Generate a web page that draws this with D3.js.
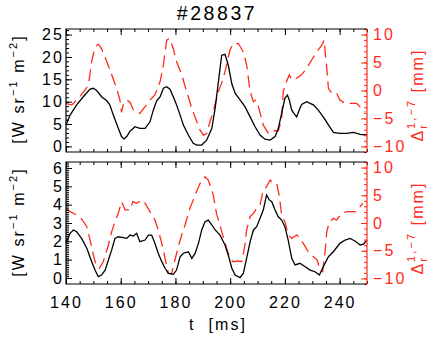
<!DOCTYPE html>
<html>
<head>
<meta charset="utf-8">
<script src="https://cdn.jsdelivr.net/npm/d3@7"></script>
<style>
  body { margin: 0; background: #fff; }
  text { font-family: "Liberation Sans", Arial, sans-serif; letter-spacing: 0.13em; }
</style>
</head>
<body>
<div id="chart"></div>
<script>
// top panel, black (left axis, W sr^-1 m^-2)
const topBlackT = [140, 141.5, 143.9, 146.3, 148.8, 150, 151.2, 153, 154.9, 156, 157.3, 159.1, 160.3, 161.2, 162.2, 163.4, 165.2, 167, 168.9, 170.7, 171.9, 173.1, 174.4, 175.6, 176.8, 178, 179.2, 180.4, 181.7, 182.9, 184.7, 186.5, 187.8, 189.6, 191.4, 193.3, 194.5, 195.7, 196.9, 198.1, 199.3, 200.6, 201.8, 203.6, 205.4, 207.3, 209.1, 210.9, 212.7, 214.6, 216.4, 217.6, 218.8, 220, 220.9, 221.6, 222.5, 223.3, 224.3, 225.2, 226.1, 228, 229.2, 230.4, 232.2, 234, 235.9, 237.7, 240.1, 242.6, 245, 247.5, 250];
const topBlack = [4.8, 7.0, 9.3, 11.1, 12.8, 13.0, 12.5, 11.1, 10.2, 9.3, 7.0, 4.05, 2.2, 1.66, 2.2, 3.4, 4.4, 4.05, 4.05, 5.5, 8.1, 10.15, 11.1, 13.0, 13.35, 12.8, 11.1, 9.3, 7.0, 4.8, 2.55, 0.7, 0.3, 0.3, 1.4, 4.05, 8.5, 14.5, 20.4, 20.6, 18.2, 14.0, 11.9, 10.4, 8.9, 6.6, 4.4, 2.55, 1.6, 1.4, 2.2, 4.05, 7.4, 10.75, 11.5, 10.4, 8.1, 7.4, 6.6, 8.1, 9.4, 10.0, 9.6, 9.3, 8.1, 6.6, 4.8, 3.15, 2.9, 2.9, 3.15, 2.7, 2.55];

// top panel, red dashed (right axis, mm)
const topRedT = [140, 142.1, 144.5, 147, 148.2, 149.4, 150.6, 151.8, 153, 154.9, 156.7, 158.5, 159.7, 160.3, 160.9, 162.2, 163.4, 164.6, 167, 168.9, 170.7, 172.5, 174.4, 175.6, 176.8, 177.8, 179.2, 180.4, 182.3, 184.1, 186, 187.8, 189, 190.2, 191.4, 192.6, 193.8, 195.7, 197.5, 198.7, 199.9, 201.1, 203, 204.8, 206, 207.3, 208.5, 209.5, 210.5, 212.1, 214, 215.8, 217.6, 218.8, 219.4, 220.6, 221.6, 222.5, 224.3, 226.1, 228, 229.8, 231.6, 233.5, 234.4, 234.7, 235.3, 235.9, 237.1, 238.9, 240.1, 242, 243.8, 246.2, 248.1, 249.3];
const topRed = [-2.3, -2.6, -1.4, 0.1, 1.0, 5.2, 7.8, 8.3, 7.5, 5.2, 2.8, 0.4, -1.7, -3.9, -2.6, -1.7, -2.1, -3.5, -4.1, -2.9, -1.7, -0.8, 1.6, 4.6, 9.0, 9.3, 7.5, 5.2, 2.8, -0.2, -3.2, -5.6, -7.1, -8.0, -7.7, -5.6, -3.8, -0.2, 2.2, 4.6, 7.2, 8.4, 8.4, 6.9, 4.6, -0.2, -2.0, -1.7, -3.2, -6.2, -7.7, -7.2, -7.2, -5.0, -0.2, 1.6, 2.8, 1.9, 2.2, 2.8, 4.0, 5.5, 6.9, 8.1, 9.0, 6.9, 4.0, 0.4, -0.5, -0.5, -1.7, -2.3, -2.3, -2.3, -3.2, -3.8];

// bottom panel, black
const botBlackT = [140, 141.5, 142.7, 143.9, 145.7, 147.6, 149.4, 150.6, 151.8, 153, 154.3, 155.5, 156.7, 157.9, 159.1, 160.9, 162.2, 163.4, 164.6, 165.8, 167, 168.9, 170.1, 171.3, 172.5, 173.7, 175, 176.2, 177.4, 179.2, 180.4, 181.7, 182.9, 184.7, 186, 187.2, 188.4, 189.6, 190.8, 192, 193.3, 194.5, 196.3, 198.1, 199.3, 200.6, 201.8, 203.6, 204.8, 206, 207.3, 208.5, 209.7, 210.9, 212.1, 213.3, 214.3, 215.2, 216.4, 217.6, 218.8, 220, 221.2, 222.5, 223.7, 225.5, 227.4, 229.2, 231, 232.6, 234, 235.9, 237.7, 240.1, 242, 243.8, 245.6, 247.5, 248.7, 250];
const botBlack = [1.89, 2.44, 2.62, 2.52, 2.16, 1.62, 0.89, 0.43, 0.07, 0.16, 0.43, 0.98, 1.53, 2.16, 2.25, 2.2, 2.16, 2.34, 2.29, 2.44, 1.98, 2.07, 2.34, 2.34, 1.89, 1.35, 0.89, 0.53, 0.25, 0.2, 0.43, 1.16, 1.35, 1.43, 1.07, 1.35, 1.89, 2.62, 3.07, 3.16, 2.89, 2.62, 2.34, 1.8, 1.25, 0.53, 0.16, 0.02, 0.25, 1.07, 1.98, 2.62, 2.8, 3.26, 3.71, 4.53, 4.26, 4.16, 3.71, 3.34, 3.16, 2.8, 2.07, 1.07, 0.71, 0.8, 0.61, 0.43, 0.34, 0.16, 0.61, 1.16, 1.43, 1.89, 2.07, 2.16, 2.02, 1.8, 1.84, 2.07];

// bottom panel, red dashed
const botRedT = [140, 141.5, 143.9, 145.7, 147.6, 148.8, 150, 151.2, 152.2, 153.6, 155.5, 156.7, 157.9, 159.1, 160.3, 161.6, 163.4, 164.4, 165.8, 167.7, 168.9, 170.7, 172.5, 173.7, 175, 176.2, 177.4, 178.6, 179.8, 181, 182.3, 183.5, 185.3, 187.2, 189, 190.8, 192, 193.8, 195, 196.9, 198.7, 199.9, 201.1, 203, 204.2, 205.4, 206, 207.3, 208.5, 209.7, 210.9, 212.1, 213.3, 214.6, 215.8, 217, 218, 218.8, 220, 221.2, 222.5, 224.3, 225.5, 226.7, 228.5, 230.4, 231.8, 232.8, 233.8, 234.7, 235.3, 236.1, 237.7, 238.9, 240.7, 242.6, 244.4, 246.2, 247.5, 248.5];
const botRed = [2.65, 2.04, 1.44, 0.72, -0.67, -3.07, -5.77, -7.88, -8.17, -6.98, -3.97, -1.56, 0.24, 1.74, 3.85, 2.35, 2.35, 3.85, 3.55, 4.15, 3.55, 2.04, 0.54, -1.26, -3.66, -6.37, -9.07, -9.07, -6.67, -4.27, -2.16, -0.36, 2.65, 5.05, 7.16, 8.35, 7.75, 5.05, 1.74, -1.56, -4.57, -6.37, -6.98, -6.85, -6.98, -3.97, -1.26, 1.14, 1.74, 2.65, 3.25, 5.95, 6.55, 7.75, 7.16, 7.16, 4.74, 1.44, 0.24, -2.16, -2.76, -2.16, -2.76, -3.66, -5.17, -6.07, -6.67, -8.47, -8.77, -5.17, -1.56, -0.06, 0.84, 0.54, 1.74, 2.04, 2.04, 2.04, 2.94, 3.6];

const xTicks = [140, 160, 180, 200, 220, 240];
const topLeftTicks = [0, 5, 10, 15, 20, 25];
const botLeftTicks = [0, 1, 2, 3, 4, 5, 6];
const rightTicks = [-10, -5, 0, 5, 10];

const W = 430, H = 339;
const RED = '#ff2a1a';
const left = 66, right = 367;

const svg = d3.select('#chart').append('svg')
  .attr('width', W)
  .attr('height', H);

const x = d3.scaleLinear().domain([140, 250]).range([left, right]);

const panels = [
  { top: 29, bottom: 152, yl: [-1.25, 26.25], lticks: topLeftTicks, lminor: 1,
    bt: topBlackT, bv: topBlack, rt: topRedT, rv: topRed, xlabels: false, ly: 89 },
  { top: 162, bottom: 284, yl: [-0.33, 6.33], lticks: botLeftTicks, lminor: 0.1,
    bt: botBlackT, bv: botBlack, rt: botRedT, rv: botRed, xlabels: true, ly: 222 }
];

panels.forEach(p => {
  const yL = d3.scaleLinear().domain(p.yl).range([p.bottom, p.top]);
  const yR = d3.scaleLinear().domain([-11, 11]).range([p.bottom, p.top]);
  const g = svg.append('g');

  // data
  const lineB = d3.line().x((d, i) => x(p.bt[i])).y(d => yL(d));
  const lineR = d3.line().x((d, i) => x(p.rt[i])).y(d => yR(d));

  g.append('path')
    .attr('d', lineR(p.rv))
    .attr('fill', 'none')
    .attr('stroke', RED)
    .attr('stroke-width', 1.3)
    .attr('stroke-dasharray', '12,6');

  g.append('path')
    .attr('d', lineB(p.bv))
    .attr('fill', 'none')
    .attr('stroke', '#000')
    .attr('stroke-width', 1.3);

  // x axes (bottom with labels, top ticks only)
  const xMinor = d3.range(140, 250.1, 5);
  g.append('g').attr('transform', `translate(0,${p.bottom})`)
    .call(d3.axisBottom(x).tickValues(xMinor).tickSize(-3).tickFormat(''));
  g.append('g').attr('transform', `translate(0,${p.bottom})`)
    .call(d3.axisBottom(x).tickValues(xTicks).tickSize(-6).tickPadding(13)
      .tickFormat(p.xlabels ? d3.format('d') : ''));
  g.append('g').attr('transform', `translate(0,${p.top})`)
    .call(d3.axisTop(x).tickValues(xMinor).tickSize(-3).tickFormat(''));
  g.append('g').attr('transform', `translate(0,${p.top})`)
    .call(d3.axisTop(x).tickValues(xTicks).tickSize(-6).tickFormat(''));

  // left axis
  const lMinor = d3.range(0, Math.floor(p.yl[1] / p.lminor) + 1).map(i => i * p.lminor).filter(v => v <= p.yl[1]);
  g.append('g').attr('transform', `translate(${left},0)`)
    .call(d3.axisLeft(yL).tickValues(lMinor).tickSize(-3).tickFormat(''));
  g.append('g').attr('transform', `translate(${left},0)`)
    .call(d3.axisLeft(yL).tickValues(p.lticks).tickSize(-6).tickPadding(2).tickFormat(d3.format('d')));

  // right axis (red)
  const rMinor = d3.range(-11, 11.1, 1);
  const ra = g.append('g').attr('class', 'raxis').attr('transform', `translate(${right},0)`);
  ra.call(d3.axisRight(yR).tickValues(rMinor).tickSize(-3).tickFormat(''));
  const rb = g.append('g').attr('class', 'raxis').attr('transform', `translate(${right},0)`);
  rb.call(d3.axisRight(yR).tickValues(rightTicks).tickSize(-6).tickPadding(6));

  g.selectAll('.domain').remove();
  g.selectAll('.tick line').attr('stroke-width', 1);
  g.selectAll('.tick text').attr('font-size', 16).attr('font-family', null).attr('fill', '#000');
  g.selectAll('.raxis .tick line').attr('stroke', RED);
  g.selectAll('.raxis .tick text').attr('fill', RED);

  // frame
  g.append('path')
    .attr('d', `M${right},${p.top}H${left}V${p.bottom}H${right}`)
    .attr('fill', 'none').attr('stroke', '#000').attr('stroke-width', 1.2);
  g.append('line')
    .attr('x1', right).attr('x2', right).attr('y1', p.top).attr('y2', p.bottom)
    .attr('stroke', RED).attr('stroke-width', 1.2);

  // left title
  const lt = svg.append('text')
    .attr('transform', `translate(24,${p.ly}) rotate(-90)`)
    .attr('text-anchor', 'middle')
    .attr('font-size', 16)
    .attr('fill', '#000');
  lt.append('tspan').text('[W sr');
  lt.append('tspan').attr('font-size', 11).attr('dy', -7).text('\u22121');
  lt.append('tspan').attr('dy', 7).text(' m');
  lt.append('tspan').attr('font-size', 11).attr('dy', -7).text('\u22122');
  lt.append('tspan').attr('dy', 7).text(']');

  // right title
  const rt = svg.append('text')
    .attr('transform', `translate(423,${p.ly + 6}) rotate(-90)`)
    .attr('text-anchor', 'middle')
    .attr('font-size', 16)
    .attr('fill', RED);
  rt.append('tspan').text('\u0394');
  rt.append('tspan').attr('font-size', 11).attr('dy', 4).text('r');
  rt.append('tspan').attr('font-size', 11).attr('dx', -6).attr('dy', -12).text('1,\u22127');
  rt.append('tspan').attr('dy', 8).text(' [mm]');
});

// title
svg.append('text')
  .attr('x', 217).attr('y', 20)
  .attr('text-anchor', 'middle')
  .attr('font-size', 19.5)
  .text('#28837');

// x title
svg.append('text')
  .attr('x', 218).attr('y', 330)
  .attr('text-anchor', 'middle')
  .attr('font-size', 16)
  .attr('xml:space', 'preserve')
  .text('t  [ms]');
</script>
</body>
</html>
